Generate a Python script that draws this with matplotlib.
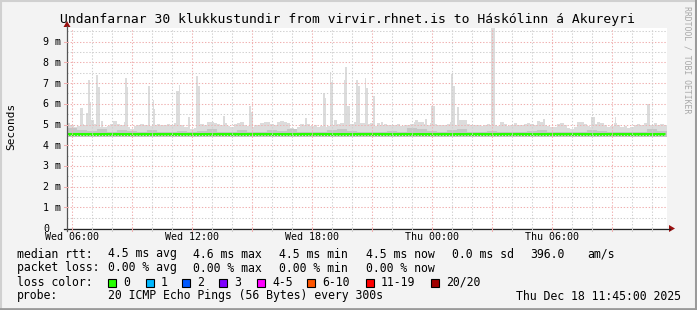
import matplotlib
matplotlib.use("Agg")
import matplotlib.pyplot as plt
from matplotlib.patches import Rectangle, Polygon
from matplotlib.lines import Line2D

W, H = 697, 310
MONO = "DejaVu Sans Mono"

# hours since Wed 05:45, 30 hours shown
hours = 30
# upper edge of the smoke, one value per 10 minutes (ms)
smoke_top = [
    5.06, 5.00, 4.90, 4.93, 5.03, 4.98,
    5.13, 5.20, 5.03, 4.93, 4.88, 4.90,
    4.93, 5.03, 5.16, 5.03, 4.98, 5.10,
    4.86, 4.80, 4.93, 4.98, 5.03, 4.96,
    5.00, 4.93, 4.98, 5.03, 4.96, 5.00,
    5.03, 4.98, 5.08, 4.93, 4.98, 4.88,
    4.86, 4.80, 4.83, 4.98, 5.03, 4.96,
    5.10, 5.13, 5.08, 5.03, 4.98, 5.08,
    4.93, 4.88, 5.03, 5.08, 5.10, 5.00,
    4.93, 4.88, 4.96, 5.00, 5.08, 5.13,
    5.13, 5.03, 5.00, 5.10, 5.16, 5.13,
    5.08, 4.83, 4.78, 4.88, 5.03, 5.00,
    5.03, 4.93, 4.98, 4.88, 4.93, 4.86,
    4.93, 4.98, 5.20, 5.03, 5.06, 5.08,
    5.10, 5.03, 5.13, 4.98, 5.08, 5.06,
    5.03, 5.06, 4.93, 5.08, 5.00, 5.03,
    4.98, 4.96, 5.00, 5.03, 4.93, 4.96,
    4.98, 5.03, 5.13, 5.10, 5.13, 5.03,
    4.98, 5.06, 5.03, 4.96, 4.98, 5.00,
    5.03, 5.13, 4.98, 5.13, 5.18, 5.20,
    5.03, 4.98, 5.00, 4.96, 4.93, 4.98,
    5.03, 4.96, 5.00, 4.93, 5.10, 5.03,
    4.93, 4.98, 5.08, 5.00, 4.96, 5.03,
    5.08, 5.03, 5.00, 5.18, 5.13, 4.98,
    4.93, 4.86, 4.88, 5.03, 5.08, 5.00,
    4.83, 4.80, 4.88, 5.10, 5.13, 5.03,
    4.93, 4.88, 5.03, 5.10, 5.06, 4.98,
    4.88, 4.93, 5.08, 4.98, 4.90, 4.93,
    4.83, 4.88, 4.96, 5.03, 5.00, 5.06,
    5.03, 4.98, 5.06, 5.00, 5.03, 4.98,
]
# darker inner smoke, one value per half hour (ms)
smoke_mid = [4.82, 4.74, 4.68, 4.80, 4.64, 4.72, 4.67, 4.62, 4.74, 4.66,
             4.62, 4.70, 4.64, 4.68, 4.77, 4.62, 4.66, 4.72, 4.64, 4.62,
             4.74, 4.68, 4.80, 4.64, 4.66, 4.62, 4.72, 4.78, 4.68, 4.64,
             4.66, 4.62, 4.70, 4.64, 4.84, 4.80, 4.68, 4.66, 4.72, 4.76,
             4.64, 4.62, 4.68, 4.66, 4.62, 4.64, 4.68, 4.72, 4.62, 4.66,
             4.64, 4.62, 4.74, 4.68, 4.64, 4.62, 4.66, 4.64, 4.76, 4.68]
smoke_low = 4.42
median_rtt = 4.53

# single spikes in the smoke: start hour, end hour, top (ms)
spike_start = [0.65, 0.95, 1.05, 1.15, 1.45, 1.55, 1.70, 2.30, 2.90, 3.00,
               4.05, 4.30, 4.35, 5.45, 5.60, 6.05, 6.45, 6.55, 7.80, 9.10,
               9.20, 11.90, 12.80, 12.90, 13.15, 13.20, 13.85, 13.90, 14.00, 14.45,
               14.55, 14.90, 14.95, 15.30, 15.70, 17.40, 17.90, 18.20, 19.20, 19.30,
               19.50, 19.60, 21.20, 23.80, 26.20, 27.40, 29.00]
spike_end = [0.80, 1.05, 1.15, 1.20, 1.55, 1.65, 1.80, 2.40, 3.00, 3.05,
             4.15, 4.35, 4.40, 5.60, 5.65, 6.15, 6.55, 6.65, 7.90, 9.20,
             9.30, 12.00, 12.90, 12.95, 13.20, 13.30, 13.90, 14.00, 14.15, 14.55,
             14.65, 14.95, 15.05, 15.40, 15.80, 17.55, 18.00, 18.40, 19.30, 19.40,
             19.60, 20.00, 21.40, 23.90, 26.40, 27.45, 29.15]
spike_top = [5.78, 5.55, 7.15, 6.10, 7.39, 6.83, 5.17, 5.17, 7.23, 6.83,
             6.86, 6.18, 5.73, 6.62, 6.91, 5.38, 7.34, 6.86, 5.41, 5.89,
             5.62, 5.30, 6.50, 6.27, 7.55, 7.07, 7.15, 7.79, 5.89, 7.15,
             6.86, 7.23, 6.75, 6.38, 5.13, 5.22, 5.25, 5.89, 7.44, 6.86,
             5.83, 5.22, 9.90, 5.25, 5.38, 5.38, 5.99]

x_ticks = [0.25, 6.25, 12.25, 18.25, 24.25]
x_labels = ["Wed 06:00", "Wed 12:00", "Wed 18:00", "Thu 00:00", "Thu 06:00"]
y_ticks = [0, 1, 2, 3, 4, 5, 6, 7, 8, 9]
y_labels = ["0"] + ["%d m" % v for v in y_ticks[1:]]

loss_labels = ["0", "1", "2", "3", "4-5", "6-10", "11-19", "20/20"]
loss_colors = ["#26ff00", "#00b8ff", "#0059ff", "#7e00ff",
               "#ff00ff", "#ff5500", "#ff0000", "#a00000"]
loss_box_x = [108, 146, 182, 219, 257, 307, 366, 431]

rtt_cells = ["4.5 ms avg", "4.6 ms max", "4.5 ms min", "4.5 ms now", "0.0 ms sd", "396.0", "am/s"]
rtt_x = [108, 193, 279, 366, 452, 530, 587]
loss_cells = ["0.00 % avg", "0.00 % max", "0.00 % min", "0.00 % now"]
loss_x = [108, 193, 279, 366]


def px(x, y):
    return x / W, 1 - y / H


fig = plt.figure(figsize=(W / 100, H / 100), dpi=100, facecolor="#f3f3f3")
ax = fig.add_axes([67 / W, (H - 228) / H, 600 / W, 200 / H])
ax.set_facecolor("white")
ax.set_xlim(0, hours)
ax.set_ylim(0, 200 / 20.7)

# smoke
edges = [i / 6 for i in range(len(smoke_top) + 1)]
ax.stairs(smoke_top, edges, baseline=smoke_low, fill=True, color="#dcdcdc", lw=0, zorder=1)
ax.bar(spike_start, [t - smoke_low for t in spike_top],
       width=[e - s for s, e in zip(spike_start, spike_end)],
       bottom=smoke_low, align="edge", color="#dcdcdc", lw=0, zorder=1)
edges_m = [i * 0.5 for i in range(len(smoke_mid) + 1)]
ax.stairs(smoke_mid, edges_m, baseline=smoke_low, fill=True, color="#c6c6c6", lw=0, zorder=1.5)

# median line
ax.hlines(median_rtt, 0, hours - 0.1, color="#26ff00", lw=2.2, zorder=2)

# grid on top, rrdtool style
dots = (0, (1.3, 1.7))
grey, pink = "#d0d0d0", "#f0b0b0"
for v in [i * 0.5 for i in range(1, 20)]:
    ax.axhline(v, color=pink if v == int(v) else grey, lw=0.75, ls=dots, zorder=3)
for k in range(30):
    h = 0.25 + k
    ax.axvline(h, color=pink if k % 3 == 0 else grey, lw=0.75, ls=dots, zorder=3)

for s in ax.spines.values():
    s.set_visible(False)
ax.set_xticks([])
ax.set_yticks([])

# axes lines and arrows
fig.add_artist(Line2D([64 / W, 670 / W], [1 - 228.5 / H] * 2, color="#222222", lw=0.9))
fig.add_artist(Line2D([67 / W] * 2, [1 - 231 / H, 1 - 26 / H], color="#555555", lw=0.9))
fig.add_artist(Polygon([px(669, 225), px(675, 228.5), px(669, 232)], closed=True,
                       color="#9a1010", lw=0))
fig.add_artist(Polygon([px(63.5, 27), px(67, 21), px(70.5, 27)], closed=True,
                       color="#9a1010", lw=0))

# tick marks
for k in range(30):
    x = 67 + (k + 0.25) * 20
    fig.add_artist(Line2D([x / W] * 2, [1 - 228 / H, 1 - 231 / H],
                          color=pink if k % 3 == 0 else grey, lw=0.75))
for v in y_ticks[1:]:
    y = 228 - v * 20.7
    fig.add_artist(Line2D([64 / W, 67 / W], [1 - y / H] * 2, color=pink, lw=0.75))

# tick labels
for t, lab in zip(x_ticks, x_labels):
    fig.text((67 + t * 20) / W, 1 - 237.5 / H, lab, ha="center", va="center",
             family=MONO, fontsize=7.2)
for v, lab in zip(y_ticks, y_labels):
    y = 228 - v * 20.7 + 0.5
    fig.text(43 / W, 1 - y / H, lab, ha="left", va="center", family=MONO, fontsize=7.2)

# titles
fig.text(347 / W, 1 - 19 / H, "Undanfarnar 30 klukkustundir from virvir.rhnet.is to Háskólinn á Akureyri",
         ha="center", va="center", family=MONO, fontsize=9.4)
fig.text(11 / W, 1 - 126 / H, "Seconds", rotation=90, ha="center", va="center",
         family=MONO, fontsize=8)
fig.text(687 / W, 1 - 60 / H, "RRDTOOL / TOBI OETIKER", rotation=-90, ha="center",
         va="center", family=MONO, fontsize=5.9, color="#a8a8a8")

# legend
rows = [254, 268, 282, 296]
fs = 8.3
fig.text(17 / W, 1 - rows[0] / H, "median rtt:", va="center", family=MONO, fontsize=fs)
for x, s in zip(rtt_x, rtt_cells):
    fig.text(x / W, 1 - rows[0] / H, s, va="center", family=MONO, fontsize=fs)
fig.text(17 / W, 1 - rows[1] / H, "packet loss:", va="center", family=MONO, fontsize=fs)
for x, s in zip(loss_x, loss_cells):
    fig.text(x / W, 1 - rows[1] / H, s, va="center", family=MONO, fontsize=fs)
fig.text(17 / W, 1 - rows[2] / H, "loss color:", va="center", family=MONO, fontsize=fs)
for x, lab, c in zip(loss_box_x, loss_labels, loss_colors):
    fig.add_artist(Rectangle(px(x, 286.5), 8 / W, 8 / H, facecolor=c,
                             edgecolor="black", lw=0.8))
    fig.text((x + 15) / W, 1 - rows[2] / H, lab, va="center", family=MONO, fontsize=fs)
fig.text(17 / W, 1 - rows[3] / H, "probe:", va="center", family=MONO, fontsize=fs)
fig.text(108 / W, 1 - rows[3] / H, "20 ICMP Echo Pings (56 Bytes) every 300s",
         va="center", family=MONO, fontsize=fs)
fig.text(681 / W, 1 - rows[3] / H, "Thu Dec 18 11:45:00 2025", ha="right",
         va="center", family=MONO, fontsize=fs)

# frame
fig.add_artist(Line2D([0, 1], [1 - 1 / H] * 2, color="#d0d0d0", lw=1.5))
fig.add_artist(Line2D([1 / W] * 2, [0, 1], color="#d0d0d0", lw=1.5))
fig.add_artist(Line2D([1 - 1.5 / W] * 2, [0, 1], color="#9a9a9a", lw=2.2))
fig.add_artist(Line2D([0, 1], [1.2 / H] * 2, color="#9a9a9a", lw=2.0))

fig.savefig("out.png", dpi=100, facecolor=fig.get_facecolor())
